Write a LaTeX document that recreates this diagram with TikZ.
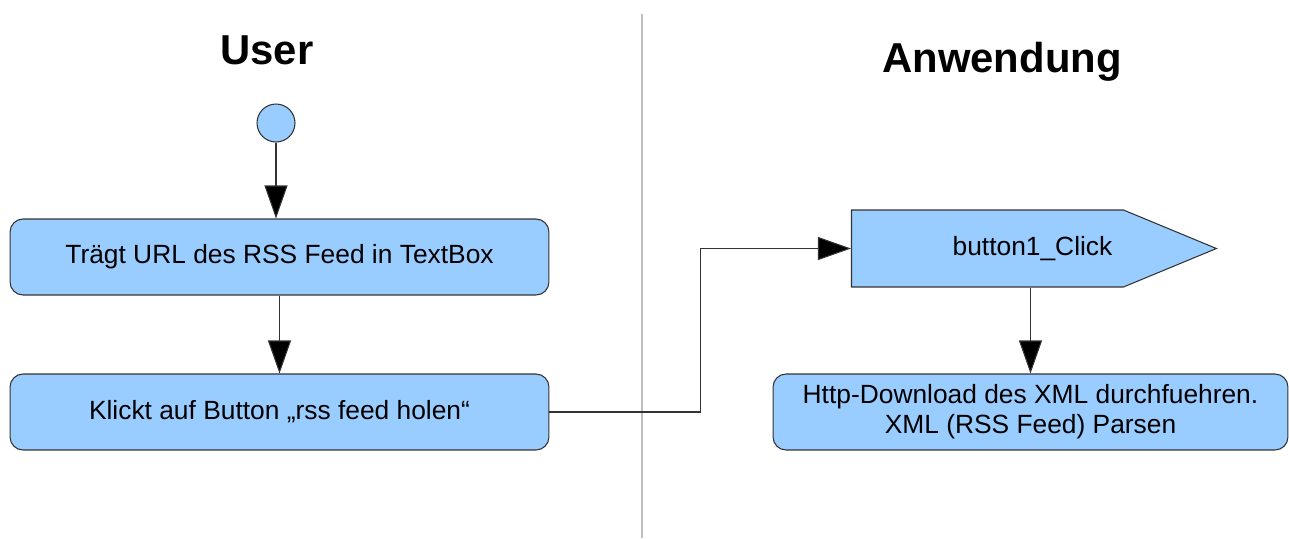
\documentclass[tikz,border=0pt]{standalone}
\usepackage{fontspec}
\setmainfont{Liberation Sans}
\usetikzlibrary{arrows.meta,shapes.symbols}
\definecolor{actfill}{HTML}{99CCFF}
\definecolor{actline}{HTML}{333333}
\begin{document}
\begin{tikzpicture}[x=0.02cm,y=-0.02cm,
    every node/.style={font=\fontsize{15}{17}\selectfont},
    title/.style={font=\fontsize{23.8}{26}\selectfont\bfseries},
    act/.style={draw=actline,fill=actfill,rounded corners=0.26cm,line width=0.6pt,
      minimum width=10.78cm,minimum height=1.52cm,align=center},
    flow/.style={draw=actline,line width=0.6pt,-{Triangle[length=0.66cm,width=0.46cm,fill=black]}}]
    \useasboundingbox (0,0) rectangle (1289,538);
    % swimlane titles and divider
    \node[title] (user) at (267,50) {User};
    \node[title] (app) at (1002,62) {Anwendung};
    \draw[black!25,line width=0.6pt] (642,14) -- (642,538);
    % user side
    \node[circle,draw=actline,fill=actfill,line width=0.6pt,minimum size=0.76cm,inner sep=0pt] (start) at (276,123) {};
    \node[act] (enter) at (279.5,257) {Trägt URL des RSS Feed in TextBox};
    \node[act] (press) at (279.5,412) {Klickt auf Button „rss feed holen“};
    % application side
    \node[signal,signal to=east,signal pointer angle=45,draw=actline,fill=actfill,line width=0.6pt,
      minimum width=7.3cm,minimum height=1.54cm,inner sep=0pt,
      label={[xshift=0.9cm]center:button1\_Click}] (click) at (987.5,248.5) {};
    \node[act,minimum width=10.3cm] (parse) at (1030.5,412) {Http-Download des XML durchfuehren.\\XML (RSS Feed) Parsen};
    % connectors
    \draw[flow] (start.south) -- (start.south |- enter.north);
    \draw[flow] (enter) -- (press);
    \draw[flow] (press.east) -- ++(151,0) |- (click.west);
    \draw[flow] (parse.north |- click.south) -- (parse.north);
\end{tikzpicture}
\end{document}
